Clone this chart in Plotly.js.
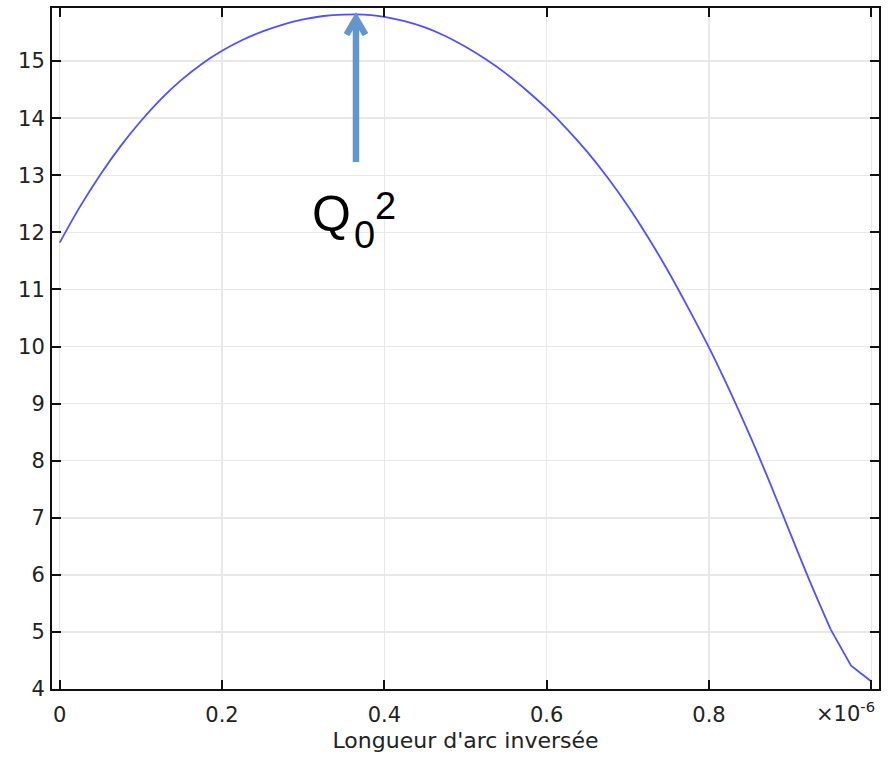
<!DOCTYPE html>
<html>
<head>
<meta charset="utf-8">
<script src="https://cdn.plot.ly/plotly-3.0.1.min.js"></script>
<style>html,body{margin:0;padding:0;background:#fff;}#chart{width:890px;height:757px;}</style>
</head>
<body>
<div id="chart"></div>
<script>
// Inverse arc length (×1e-6) and values
const arcLength = [0.000, 0.025, 0.050, 0.075, 0.100, 0.125, 0.150, 0.175, 0.200, 0.225,
                   0.250, 0.275, 0.300, 0.325, 0.350, 0.375, 0.400, 0.425, 0.450, 0.475,
                   0.500, 0.525, 0.550, 0.575, 0.600, 0.625, 0.650, 0.675, 0.700, 0.725,
                   0.750, 0.775, 0.800, 0.825, 0.850, 0.875, 0.900, 0.925, 0.950, 0.975, 1.000];
const values = [11.82, 12.45, 13.01, 13.51, 13.95, 14.34, 14.67, 14.95, 15.18, 15.37,
                15.52, 15.64, 15.73, 15.79, 15.815, 15.815, 15.775, 15.70, 15.59, 15.44,
                15.25, 15.03, 14.78, 14.49, 14.17, 13.81, 13.41, 12.96, 12.46, 11.91,
                11.31, 10.66, 9.98, 9.24, 8.45, 7.61, 6.73, 5.86, 5.04, 4.41, 4.13];
const xTicks = [0, 0.2, 0.4, 0.6, 0.8];
const xTickLabels = ["0", "0.2", "0.4", "0.6", "0.8"];
const xEndTick = [1.0];
const yTicks = [4, 5, 6, 7, 8, 9, 10, 11, 12, 13, 14, 15];
const xTitle = "Longueur d'arc inversée";
const peakLabel = "Q";
const peakSub = "0";
const peakSup = "2";
const scaleLabel = "×10<sup>-6</sup>";
// arrow pointing at the maximum
const peakX = 0.365, peakY = 15.83, arrowBaseY = 13.23;

const tickFont = {family: "DejaVu Sans, sans-serif", size: 21, color: "#222"};
const lineStyle = {color: "#5050ff", width: 1.8};
const arrowColor = "#6496cb";

// smooth part of the curve (spline) and the coarse tail (straight segments)
const tailStart = 38;
const traces = [
  {x: arcLength.slice(0, tailStart + 1), y: values.slice(0, tailStart + 1), type: "scatter",
   mode: "lines", line: Object.assign({shape: "spline", smoothing: 0.9}, lineStyle), hoverinfo: "skip"},
  {x: arcLength.slice(tailStart), y: values.slice(tailStart), type: "scatter",
   mode: "lines", line: lineStyle, hoverinfo: "skip"}
];

const axisCommon = {
  showline: true, linecolor: "#111", linewidth: 2, mirror: "ticks",
  ticks: "inside", ticklen: 9, tickwidth: 2, tickcolor: "#111",
  showgrid: true, gridcolor: "#e8e8e8", gridwidth: 1.5,
  zeroline: false, tickfont: tickFont
};

const layout = {
  width: 890, height: 757,
  margin: {l: 52, r: 11, t: 8, b: 68},
  paper_bgcolor: "#fff", plot_bgcolor: "#fff",
  showlegend: false,
  xaxis: Object.assign({}, axisCommon, {
    range: [-0.0095, 1.0094], tickvals: xTicks, ticktext: xTickLabels, ticklabelstandoff: 6,
    minor: {tickvals: xEndTick, ticks: "inside", ticklen: 9, tickwidth: 2, tickcolor: "#111",
            showgrid: true, gridcolor: "#e8e8e8", gridwidth: 1.5},
    title: {text: xTitle, font: {family: "DejaVu Sans, sans-serif", size: 22, color: "#222"}, standoff: 6}
  }),
  yaxis: Object.assign({}, axisCommon, {
    range: [4.0, 15.93], tickvals: yTicks, ticklabelstandoff: 1
  }),
  shapes: [
    {type: "line", xref: "x", yref: "y", x0: peakX, x1: peakX, y0: arrowBaseY, y1: peakY - 0.15,
     line: {color: arrowColor, width: 6.5}, layer: "above"},
    {type: "path", xref: "x", yref: "y", xsizemode: "pixel", ysizemode: "pixel",
     xanchor: peakX, yanchor: peakY, path: "M-9.5,-21 L0,-5 L9.5,-21",
     line: {color: arrowColor, width: 6.5}, fillcolor: "rgba(0,0,0,0)", layer: "above"}
  ],
  annotations: [
    {x: 331, y: 214, text: peakLabel, showarrow: false,
     font: {family: "Liberation Sans, Arial, sans-serif", size: 50, color: "#000"}},
    {x: 364, y: 235, text: peakSub, showarrow: false,
     font: {family: "Liberation Sans, Arial, sans-serif", size: 38, color: "#000"}},
    {x: 385, y: 206, text: peakSup, showarrow: false,
     font: {family: "Liberation Sans, Arial, sans-serif", size: 38, color: "#000"}},
    {x: 845, y: 712, text: scaleLabel, showarrow: false,
     font: {family: "DejaVu Sans, sans-serif", size: 21, color: "#222"}}
  ]
};

// convert pixel-positioned text annotations into paper coordinates
const plotL = 52, plotR = 879, plotT = 8, plotB = 689;
layout.annotations.forEach((a) => {
  a.xref = "paper"; a.yref = "paper";
  a.x = (a.x - plotL) / (plotR - plotL);
  a.y = (plotB - a.y) / (plotB - plotT);
  a.xanchor = "center"; a.yanchor = "middle";
});

Plotly.newPlot("chart", traces, layout, {displayModeBar: false, staticPlot: true});
</script>
</body>
</html>
